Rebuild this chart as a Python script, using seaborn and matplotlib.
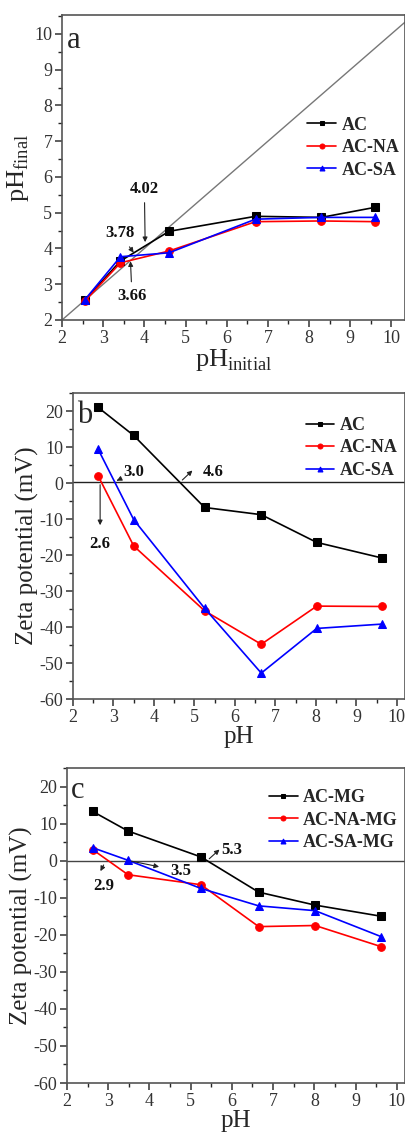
import numpy as np
import pandas as pd
import matplotlib
matplotlib.use("Agg")
import matplotlib.pyplot as plt
import seaborn as sns
from matplotlib.ticker import MultipleLocator

# ---------------- data ----------------
# panel a
ph_init = [2.55, 3.42, 4.6, 6.7, 8.3, 9.6]
a_AC = [2.55, 3.65, 4.48, 4.90, 4.87, 5.15]
a_NA = [2.52, 3.60, 3.93, 4.75, 4.77, 4.75]
a_SA = [2.56, 3.77, 3.88, 4.82, 4.87, 4.87]
labels_a = ["AC", "AC-NA", "AC-SA"]

# panel b
ph_b = [2.62, 3.5, 5.25, 6.65, 8.02, 9.62]
b_AC = [21.0, 13.2, -6.8, -8.8, -16.5, -20.8]
b_NA = [2.0, -17.5, -35.5, -44.8, -34.2, -34.3]
b_SA = [9.4, -10.2, -34.8, -52.8, -40.4, -39.2]
labels_b = ["AC", "AC-NA", "AC-SA"]

# panel c
ph_c = [2.62, 3.48, 5.25, 6.65, 8.02, 9.62]
c_AC = [13.3, 8.0, 1.0, -8.5, -12.0, -15.0]
c_NA = [3.0, -3.8, -6.5, -17.8, -17.5, -23.2]
c_SA = [3.5, 0.1, -7.5, -12.2, -13.5, -20.5]
labels_c = ["AC-MG", "AC-NA-MG", "AC-SA-MG"]

colors = ["#000000", "#ff0000", "#0000ff"]
markers = ["s", "o", "^"]

# ---------------- style ----------------
sns.set_theme(style="ticks")
plt.rcParams["font.family"] = ["Liberation Serif", "DejaVu Serif"]
plt.rcParams["mathtext.fontset"] = "custom"
plt.rcParams["mathtext.rm"] = "Liberation Serif"
plt.rcParams["axes.edgecolor"] = "#555555"
plt.rcParams["axes.linewidth"] = 1.2
plt.rcParams["axes.unicode_minus"] = False

fig = plt.figure(figsize=(4.06, 11.32), dpi=100)
ax_a = fig.add_axes([62/406, 1-320/1132, (405-62)/406, (320-15)/1132])
ax_b = fig.add_axes([73/406, 1-699/1132, (405-73)/406, (699-393)/1132])
ax_c = fig.add_axes([67/406, 1-1083/1132, (405-67)/406, (1083-768)/1132])

leg_prop = {"family": "Liberation Serif", "weight": "bold", "size": 13}


def draw(ax, x, ys, labels):
    for y, lab, col, mk in zip(ys, labels, colors, markers):
        df = pd.DataFrame({"x": x, "y": y})
        sns.lineplot(data=df, x="x", y="y", ax=ax, color=col, marker=mk,
                     markersize=5.5, markeredgecolor=col, linewidth=1.2,
                     label=lab, sort=False)


def style_axes(ax, xlim, ylim, ymaj, ymin):
    ax.set_xlim(*xlim)
    ax.set_ylim(*ylim)
    ax.xaxis.set_major_locator(MultipleLocator(1))
    ax.xaxis.set_minor_locator(MultipleLocator(0.5))
    ax.yaxis.set_major_locator(MultipleLocator(ymaj))
    ax.yaxis.set_minor_locator(MultipleLocator(ymin))
    ax.tick_params(which="major", direction="out", length=5, width=1.1,
                   labelsize=13, colors="#333333", right=False, top=False, pad=2)
    ax.tick_params(which="minor", direction="out", length=3, width=1.0,
                   right=False, top=False)
    for s in ax.spines.values():
        s.set_visible(True)


def legend(ax, anchor):
    ax.legend(frameon=False, loc="upper right", bbox_to_anchor=anchor,
              prop=leg_prop, handlelength=1.6, labelspacing=0.3,
              handletextpad=0.3, markerscale=0.65, borderaxespad=0.0)


ann_kw = dict(fontsize=12, fontweight="bold", color="#111111")
arr = dict(arrowstyle="-|>", color="#222222", lw=0.8, mutation_scale=7)

# ---------------- panel a ----------------
ax = ax_a
ax.axline((2, 2), slope=1, color="#777777", lw=1.0, zorder=1)
draw(ax, ph_init, [a_AC, a_NA, a_SA], labels_a)
style_axes(ax, (2, 10.33), (2, 10.53), 1, 0.5)
legend(ax, (1.005, 0.69))
ax.set_xlabel(r"pH$_{\rm initial}$", fontsize=19, labelpad=0)
ax.set_ylabel(r"pH$_{\rm final}$", fontsize=19, labelpad=2)
ax.text(0.015, 0.965, "a", transform=ax.transAxes, fontsize=22, va="top", ha="left")
ax.annotate("4.02", xy=(4.02, 4.1), xytext=(4.0, 5.45), ha="center", va="bottom",
            arrowprops=arr, **ann_kw)
ax.annotate("3.78", xy=(3.78, 3.82), xytext=(3.4, 4.2), ha="center", va="bottom",
            arrowprops=arr, **ann_kw)
ax.annotate("3.66", xy=(3.66, 3.72), xytext=(3.7, 2.9), ha="center", va="top",
            arrowprops=arr, **ann_kw)

# ---------------- panel b ----------------
ax = ax_b
ax.axhline(0.3, color="#222222", lw=1.0, zorder=1)
draw(ax, ph_b, [b_AC, b_NA, b_SA], labels_b)
style_axes(ax, (2, 10.2), (-60, 25), 10, 5)
legend(ax, (1.0, 0.945))
ax.set_xlabel("pH", fontsize=18, labelpad=0)
ax.set_ylabel("Zeta potential (mV)", fontsize=18, labelpad=0)
ax.text(0.012, 0.975, "b", transform=ax.transAxes, fontsize=22, va="top", ha="left")
ax.annotate("3.0", xy=(3.02, 0.3), xytext=(3.25, 0.8), ha="left", va="bottom",
            arrowprops=arr, **ann_kw)
ax.annotate("", xy=(5.0, 4.0), xytext=(4.65, 0.3), arrowprops=arr)
ax.text(5.2, 0.8, "4.6", ha="left", va="bottom", **ann_kw)
ax.annotate("", xy=(2.67, -12.5), xytext=(2.67, 0.3), arrowprops=arr)
ax.text(2.65, -14.8, "2.6", ha="center", va="top", **ann_kw)

# ---------------- panel c ----------------
ax = ax_c
ax.axhline(0, color="#444444", lw=1.0, zorder=1)
draw(ax, ph_c, [c_AC, c_NA, c_SA], labels_c)
style_axes(ax, (2, 10.2), (-60, 25), 10, 5)
legend(ax, (1.0, 0.955))
ax.set_xlabel("pH", fontsize=18, labelpad=0)
ax.set_ylabel("Zeta potential (mV)", fontsize=18, labelpad=0)
ax.text(0.012, 0.975, "c", transform=ax.transAxes, fontsize=22, va="top", ha="left")
ax.annotate("", xy=(5.75, 3.5), xytext=(5.4, 0.0), arrowprops=arr)
ax.text(5.75, 0.8, "5.3", ha="left", va="bottom", **ann_kw)
ax.annotate("", xy=(4.3, -1.8), xytext=(3.5, 0.0), arrowprops=arr)
ax.text(4.5, -0.6, "3.5", ha="left", va="top", **ann_kw)
ax.annotate("", xy=(2.78, -3.5), xytext=(2.92, -0.5), arrowprops=arr)
ax.text(2.9, -4.8, "2.9", ha="center", va="top", **ann_kw)

fig.savefig("out.png", dpi=100)
